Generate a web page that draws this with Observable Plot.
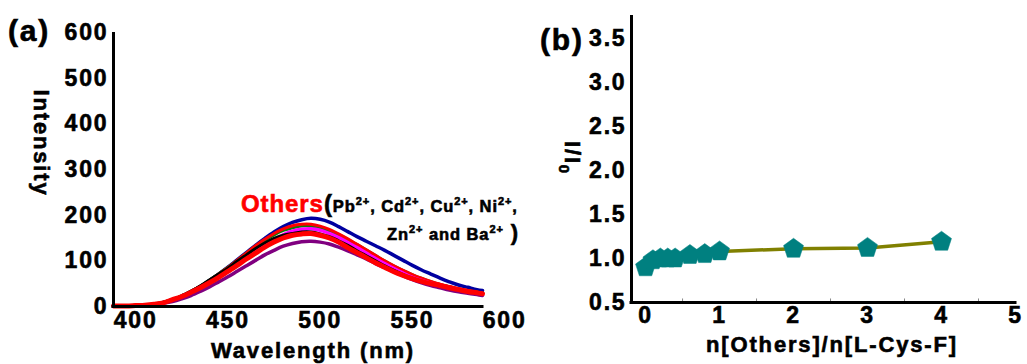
<!DOCTYPE html>
<html>
<head>
<meta charset="utf-8">
<script src="https://cdn.jsdelivr.net/npm/d3@7"></script>
<script src="https://cdn.jsdelivr.net/npm/@observablehq/plot@0.6"></script>
<style>
  body { margin: 0; background: #fff; }
  #wrap { display: flex; width: 1027px; height: 364px; overflow: hidden; background: #fff; }
  #wrap svg { display: block; overflow: visible; background: transparent !important; }
  #wrap svg text { letter-spacing: 0.08em; stroke: currentColor; stroke-width: 0.6px; }
  #wrap svg text.ions { letter-spacing: 0.04em; }
</style>
</head>
<body>
<div id="wrap"></div>
<script>
// ---------- Panel (a): emission spectra ----------
const wavelength = [388,395,400,405,410,415,420,425,430,435,440,445,450,455,460,465,470,475,480,485,490,495,500,505,510,515,520,525,530,535,540,545,550,555,560,565,570,575,580,585,588];
const blueSeries    = [1,1,2,3,5,9,15,23,33,44,57,71,86,102,118,134,149,163,175,184,190,193,191,185,175,164,153,143,133,123,112,101,90,80,71,62,54,47,42,37,35];
const greenSeries   = [1,1,2,3,5,9,15,23,33,44,57,71,85,100,116,131,145,157,167,173,177,177,173,166,157,146,135,123,111,99,88,78,69,61,54,48,43,38,34,31,29];
const redThinSeries = [1,1,2,3,5,9,15,23,33,44,57,71,85,101,117,133,147,160,170,177,180,180,176,169,159,148,136,124,112,100,89,79,70,62,55,49,44,39,35,31,29];
const magentaSeries = [1,1,2,3,5,8,13,20,29,39,51,64,78,92,107,121,135,147,157,165,169,170,167,160,151,140,129,117,105,94,83,73,64,57,51,46,41,37,33,29,28];
const blackSeries   = [1,1,2,3,5,9,15,23,33,45,58,71,84,99,113,127,139,149,156,160,163,163,159,153,144,134,122,111,100,89,79,70,62,55,49,44,40,36,32,29,27];
const purpleSeries  = [1,1,1,2,4,7,11,17,24,33,43,54,65,77,89,101,113,123,132,138,142,143,141,137,130,122,113,104,94,85,76,67,59,52,46,41,36,32,29,26,24];
const redThickSeries= [1,1,2,3,5,8,15,22,31,41,52,64,77,90,104,117,130,141,150,156,159,160,156,150,141,129,118,107,96,86,76,68,61,55,50,46,41,37,33,30,28];
const xTicksA = [400,450,500,550,600];
const yTicksA = [0,100,200,300,400,500,600];

// ---------- Panel (b): I/I0 vs ratio ----------
const ratio = [0,0.1,0.2,0.3,0.4,0.6,0.8,1,2,3,4];
const relIntensity = [0.90,0.98,1.00,1.00,1.00,1.04,1.05,1.08,1.11,1.12,1.19];
const xTicksB = [0,1,2,3,4,5];
const yTicksB = [0.5,1.0,1.5,2.0,2.5,3.0,3.5];
const minorTicksB = [0.5,1.5,2.5,3.5,4.5];

// styles (kept apart from data)
const seriesA = [
  {values: blueSeries,     stroke: "#0000a0", w: 3.5},
  {values: greenSeries,    stroke: "#0a7a0a", w: 3.5},
  {values: redThinSeries,  stroke: "#ff0000", w: 3},
  {values: magentaSeries,  stroke: "#ff00ff", w: 3.5},
  {values: blackSeries,    stroke: "#000000", w: 3},
  {values: purpleSeries,   stroke: "#800080", w: 3.5},
  {values: redThickSeries, stroke: "#ff0000", w: 5}
];

const font = "'Liberation Sans', Arial, Helvetica, sans-serif";
const baseStyle = {fontFamily: font, fontSize: "23px", fontWeight: "bold", color: "#000", background: "transparent", overflow: "visible"};

const lineMarks = seriesA.map(s =>
  Plot.line(wavelength.map((x, i) => ({x, y: s.values[i]})),
    {x: "x", y: "y", stroke: s.stroke, strokeWidth: s.w, curve: "catmull-rom"}));

const chartA = Plot.plot({
  width: 520, height: 364,
  marginLeft: 113, marginRight: 38, marginTop: 32, marginBottom: 58,
  style: baseStyle,
  x: {domain: [388, 588]},
  y: {domain: [0, 600]},
  marks: [
    ...lineMarks,
    Plot.ruleX([388], {stroke: "#000", strokeWidth: 3}),
    Plot.ruleY([0], {stroke: "#000", strokeWidth: 3, strokeLinecap: "square"}),
    Plot.axisY({ticks: yTicksA, tickSize: 0, tickPadding: 5, label: null}),
    Plot.axisX({ticks: xTicksA, tickSize: 0, tickPadding: 5, label: null})
  ]
});

// custom pentagon symbol
const pentagon = {
  draw(ctx, size) {
    const R = Math.sqrt(size / Math.PI);
    for (let k = 0; k < 5; k++) {
      const a = -Math.PI / 2 + k * 2 * Math.PI / 5;
      const px = R * Math.cos(a), py = R * Math.sin(a);
      if (k === 0) ctx.moveTo(px, py); else ctx.lineTo(px, py);
    }
    ctx.closePath();
  }
};

const dataB = ratio.map((x, i) => ({x, y: relIntensity[i]}));
const chartB = Plot.plot({
  width: 507, height: 364,
  marginLeft: 111, marginRight: 12, marginTop: 15, marginBottom: 62,
  style: baseStyle,
  x: {domain: [-0.19, 5]},
  y: {domain: [0.5, 3.76]},
  marks: [
    Plot.line(dataB, {x: "x", y: "y", stroke: "#808000", strokeWidth: 3.5}),
    Plot.dot(dataB, {x: "x", y: "y", r: 10.5, symbol: pentagon, fill: "#008080", stroke: "#008080", strokeWidth: 0.5}),
    Plot.ruleX(minorTicksB, {x: d => d, y1: 0.5, y2: 0.54, stroke: "#888", strokeWidth: 1}),
    Plot.ruleX([-0.19], {stroke: "#000", strokeWidth: 3}),
    Plot.ruleY([0.5], {stroke: "#000", strokeWidth: 3, strokeLinecap: "square"}),
    Plot.axisY({ticks: yTicksB, tickSize: 0, tickPadding: 5, tickFormat: d3.format(".1f"), label: null}),
    Plot.axisX({ticks: xTicksB, tickSize: 0, tickPadding: 4, tickFormat: d3.format("d"), label: null})
  ]
});

const wrap = document.getElementById("wrap");
wrap.appendChild(chartA);
wrap.appendChild(chartB);

// helper for rich text
function rich(svg, x, y, parts, attrs = {}) {
  const t = d3.select(svg).append("text").attr("x", x).attr("y", y)
    .attr("font-family", font).attr("font-weight", "bold").attr("text-anchor", "start");
  for (const k in attrs) t.attr(k, attrs[k]);
  for (const p of parts) {
    const s = t.append("tspan").text(p.t).attr("font-size", p.s).attr("fill", p.c || "#000");
    if (p.c) s.attr("stroke", p.c);
    if (p.dy) s.attr("dy", p.dy);
  }
  return t;
}

// Panel (a) texts
rich(chartA, 8, 41, [{t: "(a)", s: 30}]);
rich(chartA, 0, 0, [{t: "Intensity", s: 22}], {transform: "translate(42,143) rotate(90)", "text-anchor": "middle", dy: "0.35em"});
rich(chartA, 313, 350, [{t: "Wavelength (nm)", s: 22}], {"text-anchor": "middle", dy: "0.35em"});
rich(chartA, 241, 212, [
  {t: "Others", s: 24, c: "#ff0000"},
  {t: "(", s: 24, c: "#000"},
  {t: "Pb", s: 16.5}, {t: "2+", s: 11, dy: -7},
  {t: ", Cd", s: 16.5, dy: 7}, {t: "2+", s: 11, dy: -7},
  {t: ", Cu", s: 16.5, dy: 7}, {t: "2+", s: 11, dy: -7},
  {t: ", Ni", s: 16.5, dy: 7}, {t: "2+", s: 11, dy: -7},
  {t: ",", s: 16.5, dy: 7}
], {class: "ions"});
rich(chartA, 387, 240, [
  {t: "Zn", s: 16.5}, {t: "2+", s: 11, dy: -7},
  {t: " and Ba", s: 16.5, dy: 7}, {t: "2+", s: 11, dy: -7},
  {t: " )", s: 22, dy: 7}
], {class: "ions"});

// Panel (b) texts
rich(chartB, 20, 50, [{t: "(b)", s: 30}]);
rich(chartB, 0, 0, [{t: "I/I", s: 22}, {t: "0", s: 15, dy: 6}], {transform: "translate(45,158) rotate(90)", "text-anchor": "middle"});
rich(chartB, 312, 352, [{t: "n[Others]/n[L-Cys-F]", s: 22}], {"text-anchor": "middle"});
</script>
</body>
</html>
